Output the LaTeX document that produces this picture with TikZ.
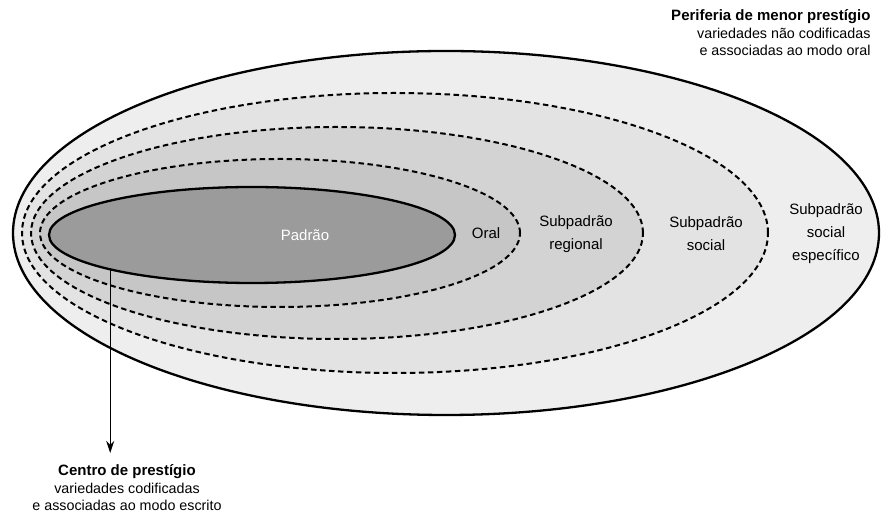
\documentclass[tikz,border=0pt]{standalone}
\usepackage{fontspec}
\setmainfont{Liberation Sans}
\usetikzlibrary{shapes.geometric,arrows.meta}
\definecolor{cinzaA}{HTML}{EEEEEE}
\definecolor{cinzaB}{HTML}{E3E3E3}
\definecolor{cinzaC}{HTML}{D3D3D3}
\definecolor{cinzaD}{HTML}{C6C6C6}
\definecolor{cinzaE}{HTML}{9B9B9B}
\begin{document}
\begin{tikzpicture}[x=1pt,y=1pt,
    zona/.style={ellipse,inner sep=0pt,fill=#1},
    contorno/.style={draw,line width=2.3pt},
    tracejado/.style={draw,line width=2pt,dash pattern=on 5.5pt off 3.5pt},
    rotulo/.style={align=center,font=\fontsize{15}{23}\selectfont},
    legenda/.style={font=\fontsize{14.3}{17.5}\selectfont}]
  \useasboundingbox (0,0) rectangle (881,516);
  \node[zona=cinzaA,contorno,minimum width=866,minimum height=364]
    (periferia) at (446,283) {};
  \node[zona=cinzaB,tracejado,minimum width=746,minimum height=280]
    (social) at (395,283) {};
  \node[zona=cinzaC,tracejado,minimum width=612,minimum height=212]
    (regional) at (337,283) {};
  \node[zona=cinzaD,tracejado,minimum width=480,minimum height=148]
    (oral) at (280,283) {};
  \node[zona=cinzaE,contorno,minimum width=406,minimum height=96]
    (padrao) at (252,281) {};
  \node[rotulo,text=white] (tpadrao) at (305,281) {Padrão};
  \node[rotulo] (toral) at (486,283) {Oral};
  \node[rotulo] (tregional) at (576,282) {Subpadrão\\regional};
  \node[rotulo] (tsocial) at (706,282) {Subpadrão\\social};
  \node[rotulo] (tespecifico) at (826,282) {Subpadrão\\social\\específico};
  \node[legenda,align=right,anchor=north east] (tperiferia) at (874,510)
    {{\bfseries\fontsize{15}{17.5}\selectfont Periferia de menor prestígio}\\
     variedades não codificadas\\e associadas ao modo oral};
  \node[legenda,align=center,anchor=north] (centro) at (127,55)
    {{\bfseries\fontsize{15}{17.5}\selectfont Centro de prestígio}\\
     variedades codificadas\\e associadas ao modo escrito};
  \draw[-{Stealth[length=12pt,width=8pt]},line width=1.3pt,shorten >=8pt]
    (padrao.194) -- (padrao.194 |- centro.north);
\end{tikzpicture}
\end{document}
